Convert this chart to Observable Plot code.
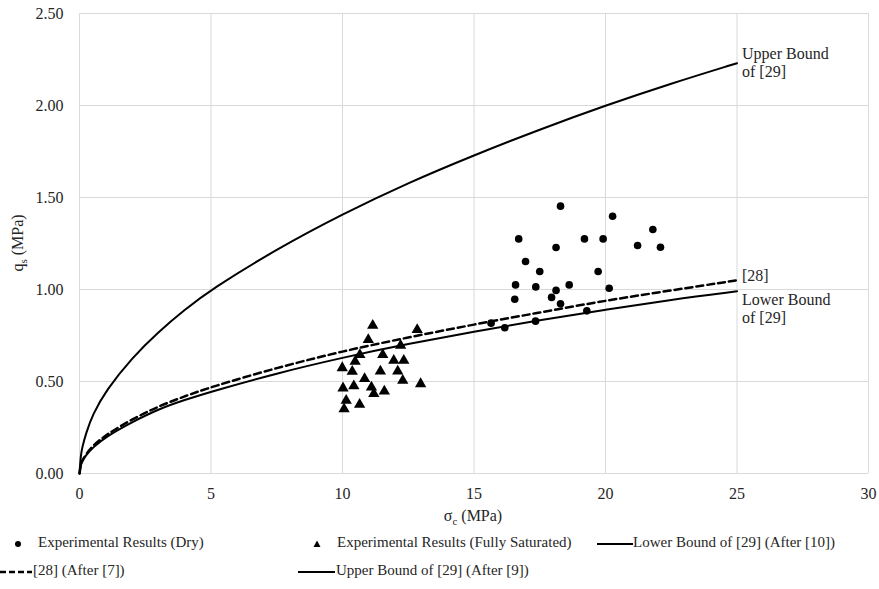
<!DOCTYPE html>
<html><head><meta charset="utf-8">
<script src="https://cdn.jsdelivr.net/npm/d3@7"></script>
<script src="https://cdn.jsdelivr.net/npm/@observablehq/plot@0.6"></script>
<style>
body{margin:0;background:#fff;font-family:"Liberation Serif","Times New Roman",Times,"DejaVu Serif",serif;color:#262626;}
#chart{position:relative;width:879px;height:589px;overflow:hidden;}
.lg{position:absolute;font-size:15px;line-height:18px;white-space:nowrap;}
.sw{position:absolute;}
</style></head><body>
<div id="chart"></div>
<script>
// Curves
const curveX = [0, 0.05, 0.1, 0.25, 0.5, 1, 2, 3, 4, 5, 7.5, 10, 12.5, 15, 17.5, 20, 22.5, 25];
const upperY = [0, 0.10, 0.14, 0.22, 0.32, 0.45, 0.63, 0.77, 0.89, 1.00, 1.22, 1.41, 1.58, 1.73, 1.87, 2.00, 2.12, 2.23];
const lowerY = [0, 0.045, 0.065, 0.10, 0.14, 0.20, 0.28, 0.35, 0.40, 0.445, 0.545, 0.63, 0.705, 0.77, 0.835, 0.89, 0.945, 0.99];
const ref28Y = [0, 0.05, 0.07, 0.105, 0.15, 0.21, 0.295, 0.365, 0.42, 0.47, 0.575, 0.665, 0.74, 0.81, 0.875, 0.94, 0.995, 1.05];

// Experimental results (Dry)
const dryX = [18.29, 20.27, 21.80, 16.70, 19.20, 19.91, 21.22, 22.09, 18.12, 16.96, 17.50, 19.72, 16.58, 17.35, 18.62, 18.12, 20.14, 16.55, 17.95, 18.29, 19.29, 17.34, 15.65, 16.17];
const dryY = [1.453, 1.398, 1.326, 1.275, 1.275, 1.275, 1.239, 1.230, 1.228, 1.152, 1.098, 1.098, 1.025, 1.014, 1.025, 0.995, 1.007, 0.947, 0.957, 0.922, 0.884, 0.828, 0.817, 0.792];

// Experimental results (Fully Saturated)
const satX = [11.15, 12.84, 10.98, 12.21, 10.66, 11.53, 10.48, 11.95, 12.33, 9.99, 10.37, 11.44, 12.10, 10.84, 12.29, 12.97, 10.02, 10.43, 11.10, 11.19, 11.59, 10.14, 10.65, 10.06];
const satY = [0.804, 0.781, 0.727, 0.696, 0.645, 0.645, 0.609, 0.614, 0.614, 0.574, 0.554, 0.556, 0.556, 0.515, 0.505, 0.487, 0.464, 0.475, 0.469, 0.433, 0.447, 0.397, 0.375, 0.350];

const xTicks = [0, 5, 10, 15, 20, 25, 30];
const yTicks = [0, 0.5, 1.0, 1.5, 2.0, 2.5];

const curveLabels = ["Upper Bound\nof [29]", "[28]", "Lower Bound\nof [29]"];
const curveLabelX = [25, 25, 25];
const curveLabelY = [2.235, 1.076, 0.90];

const legendRow1 = ["Experimental Results (Dry)", "Experimental Results (Fully Saturated)", "Lower Bound of [29] (After [10])"];
const legendRow2 = ["[28] (After [7])", "Upper Bound of [29] (After [9])"];

const FONT = "'Liberation Serif', 'Times New Roman', Times, 'DejaVu Serif', serif";
const curve = (ys) => curveX.map((x, i) => ({x, y: ys[i]}));
const dry = dryX.map((x, i) => ({x, y: dryY[i]}));
const sat = satX.map((x, i) => ({x, y: satY[i]}));
const labels = curveLabels.map((t, i) => ({t, x: curveLabelX[i], y: curveLabelY[i]}));

const plot = Plot.plot({
  width: 879, height: 528,
  marginLeft: 79, marginRight: 11, marginTop: 13, marginBottom: 55,
  style: {fontFamily: FONT, fontSize: "16px", color: "#262626", background: "white", overflow: "visible"},
  x: {domain: [0, 30], ticks: xTicks, tickSize: 0, tickPadding: 14, label: null},
  y: {domain: [0, 2.5], ticks: yTicks, tickFormat: d => d.toFixed(2), tickSize: 0, tickPadding: 16, label: null},
  marks: [
    Plot.gridX(xTicks, {stroke: "#d9d9d9", strokeOpacity: 1, strokeWidth: 1}),
    Plot.gridY(yTicks, {stroke: "#d9d9d9", strokeOpacity: 1, strokeWidth: 1}),
    Plot.line(curve(upperY), {x: "x", y: "y", stroke: "#000", strokeWidth: 2, curve: "basis"}),
    Plot.line(curve(lowerY), {x: "x", y: "y", stroke: "#000", strokeWidth: 2, curve: "basis"}),
    Plot.line(curve(ref28Y), {x: "x", y: "y", stroke: "#000", strokeWidth: 2.5, strokeDasharray: "7,4", curve: "basis"}),
    Plot.dot(dry, {x: "x", y: "y", r: 3.8, fill: "#000", stroke: "none"}),
    Plot.dot(sat, {x: "x", y: "y", r: 4.2, symbol: "triangle", fill: "#000", stroke: "none"}),
    Plot.text(labels, {x: "x", y: "y", text: "t", textAnchor: "start", dx: 5, fontSize: 16, lineHeight: 1.15, fill: "#262626"})
  ]
});

const chart = document.getElementById("chart");
chart.appendChild(plot);

// axis titles with subscripts
const svg = d3.select(plot);
const xt = svg.append("text").attr("x", 473).attr("y", 521).attr("text-anchor", "middle")
  .attr("font-size", 16).attr("font-family", FONT).attr("fill", "#262626");
xt.append("tspan").text("σ");
xt.append("tspan").text("c").attr("font-size", 11).attr("dy", 4);
xt.append("tspan").text(" (MPa)").attr("dy", -4);

const yt = svg.append("text").attr("transform", "translate(23,243) rotate(-90)").attr("text-anchor", "middle")
  .attr("font-size", 16).attr("font-family", FONT).attr("fill", "#262626");
yt.append("tspan").text("q");
yt.append("tspan").text("s").attr("font-size", 11).attr("dy", 4);
yt.append("tspan").text(" (MPa)").attr("dy", -4);

// legend
function addText(txt, left, cy) {
  const d = document.createElement("div");
  d.className = "lg"; d.textContent = txt;
  d.style.left = left + "px"; d.style.top = (cy - 9) + "px";
  chart.appendChild(d);
}
function addSwatch(svgInner, left, cy, w) {
  const d = document.createElement("div");
  d.className = "sw";
  d.style.left = left + "px"; d.style.top = (cy - 6) + "px";
  d.innerHTML = `<svg width="${w}" height="12">${svgInner}</svg>`;
  chart.appendChild(d);
}
const r1 = 542, r2 = 570;
addSwatch('<circle cx="6" cy="6" r="3" fill="#000"/>', 12, r1, 12);
addText(legendRow1[0], 38, r1);
addSwatch('<path d="M6,2.5 L9.5,9 L2.5,9 Z" fill="#000"/>', 311, r1, 12);
addText(legendRow1[1], 337, r1);
addSwatch('<line x1="0" y1="6" x2="36" y2="6" stroke="#000" stroke-width="2"/>', 597, r1, 36);
addText(legendRow1[2], 633, r1);
addSwatch('<line x1="0" y1="6" x2="32" y2="6" stroke="#000" stroke-width="2.5" stroke-dasharray="6,3"/>', 0, r2, 33);
addText(legendRow2[0], 33, r2);
addSwatch('<line x1="0" y1="6" x2="37" y2="6" stroke="#000" stroke-width="2"/>', 298, r2, 37);
addText(legendRow2[1], 336, r2);
</script>
</body></html>
